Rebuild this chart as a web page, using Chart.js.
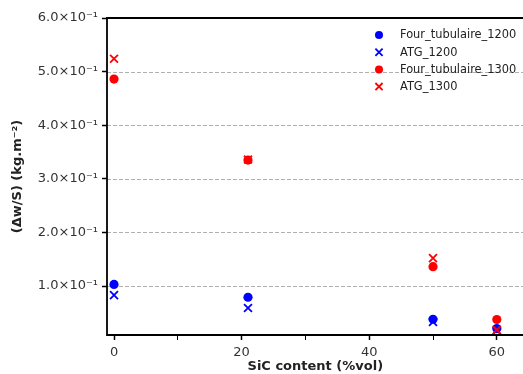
<!DOCTYPE html>
<html>
<head>
<meta charset="utf-8">
<script src="https://cdn.jsdelivr.net/npm/chart.js@4.4.1/dist/chart.umd.min.js"></script>
<style>
  html, body { margin: 0; padding: 0; background: #fff; overflow: hidden; }
  #wrap { width: 531px; height: 374px; position: relative; }
</style>
</head>
<body>
<div id="wrap"><canvas id="chart"></canvas></div>
<script>
// teneur en SiC (%vol) et gain de masse par surface
const SIC = [0, 21, 50, 60];
const FOUR_1200 = [0.103, 0.079, 0.038, 0.0205];
const ATG_1200 = [0.083, 0.059, 0.033, 0.017];
const FOUR_1300 = [0.486, 0.335, 0.136, 0.0375];
const ATG_1300 = [0.524, 0.336, 0.152, 0.018];

const SERIES_NAMES = ["Four_tubulaire_1200", "ATG_1200", "Four_tubulaire_1300", "ATG_1300"];
const Y_TICKS = [0.1, 0.2, 0.3, 0.4, 0.5, 0.6];
const X_TICKS = [0, 10, 20, 30, 40, 50, 60];
const X_LABELED = [0, 20, 40, 60];

const FONT = "'DejaVu Sans', sans-serif";

const toPoints = (ys) => SIC.map((x, i) => ({ x: x, y: ys[i] }));

function circleSet(label, ys, color, order) {
  return {
    label: label, data: toPoints(ys), order: order,
    pointStyle: "circle", pointRadius: 4.6, borderWidth: 0,
    backgroundColor: color, borderColor: color
  };
}
function crossSet(label, ys, color, order) {
  return {
    label: label, data: toPoints(ys), order: order,
    pointStyle: "crossRot", pointRadius: 5.6, borderWidth: 1.8,
    backgroundColor: color, borderColor: color
  };
}

// grille pointillée + cadre + légende dessinés à la main
const decor = {
  id: "decor",
  beforeDatasetsDraw(chart) {
    const { ctx, chartArea: a, scales } = chart;
    ctx.save();
    ctx.strokeStyle = "#b0b0b0";
    ctx.lineWidth = 1;
    ctx.setLineDash([4, 2]);
    Y_TICKS.forEach((v) => {
      const y = Math.round(scales.y.getPixelForValue(v)) + 0.5;
      ctx.beginPath();
      ctx.moveTo(a.left, y);
      ctx.lineTo(a.right, y);
      ctx.stroke();
    });
    ctx.restore();
  },
  afterDatasetsDraw(chart) {
    const { ctx, chartArea: a } = chart;
    ctx.save();
    ctx.strokeStyle = "#000";
    ctx.lineWidth = 1.8;
    ctx.beginPath();
    ctx.moveTo(a.right + 2, a.top);
    ctx.lineTo(a.left, a.top);
    ctx.lineTo(a.left, a.bottom);
    ctx.lineTo(a.right + 2, a.bottom);
    ctx.stroke();
    ctx.restore();
  },
  afterDraw(chart) {
    const { ctx } = chart;
    ctx.save();
    ctx.font = "11.4px " + FONT;
    ctx.textBaseline = "middle";
    chart.data.datasets.forEach((ds, i) => {
      const y = 35 + i * 17.2;
      const x = 379;
      ctx.fillStyle = ds.backgroundColor;
      ctx.strokeStyle = ds.borderColor;
      if (ds.pointStyle === "circle") {
        ctx.beginPath();
        ctx.arc(x, y, 4, 0, Math.PI * 2);
        ctx.fill();
      } else {
        ctx.lineWidth = 1.8;
        ctx.beginPath();
        ctx.moveTo(x - 3.6, y - 3.6); ctx.lineTo(x + 3.6, y + 3.6);
        ctx.moveTo(x + 3.6, y - 3.6); ctx.lineTo(x - 3.6, y + 3.6);
        ctx.stroke();
      }
      ctx.fillStyle = "#222";
      ctx.fillText(ds.label, 400, y + 0.5);
    });
    ctx.restore();
  }
};

new Chart(document.getElementById("chart"), {
  type: "scatter",
  data: {
    datasets: [
      circleSet(SERIES_NAMES[0], FOUR_1200, "#0000ff", 4),
      crossSet(SERIES_NAMES[1], ATG_1200, "#0000ff", 3),
      circleSet(SERIES_NAMES[2], FOUR_1300, "#ff0000", 2),
      crossSet(SERIES_NAMES[3], ATG_1300, "#ff0000", 1)
    ]
  },
  options: {
    responsive: true,
    maintainAspectRatio: false,
    animation: false,
    events: [],
    layout: { padding: { top: 18, right: 0, bottom: 0, left: 0 } },
    plugins: { legend: { display: false }, tooltip: { enabled: false } },
    scales: {
      x: {
        type: "linear", min: -1.1, max: 64.2,
        afterBuildTicks: (s) => { s.ticks = X_TICKS.map((v) => ({ value: v })); },
        afterFit: (s) => { s.height = 39; },
        border: { display: false },
        grid: {
          drawOnChartArea: false, drawTicks: true, tickLength: 5,
          tickColor: "#000",
          tickWidth: (c) => (X_LABELED.includes(c.tick && c.tick.value) ? 1.5 : 1)
        },
        ticks: {
          padding: 5, color: "#333", font: { family: FONT, size: 13 },
          maxRotation: 0, autoSkip: false,
          callback: (v) => (X_LABELED.includes(v) ? String(v) : "")
        },
        title: {
          display: true, text: "SiC content (%vol)", color: "#222",
          font: { family: FONT, size: 13, weight: "bold" },
          padding: { top: 0, bottom: 0 }
        }
      },
      y: {
        type: "linear", min: 0.0086, max: 0.6,
        afterBuildTicks: (s) => { s.ticks = Y_TICKS.map((v) => ({ value: v })); },
        afterFit: (s) => { s.width = 107; },
        border: { display: false },
        grid: {
          drawOnChartArea: false, drawTicks: true, tickLength: 5,
          tickColor: "#000", tickWidth: 1.5
        },
        ticks: {
          padding: 4, color: "#333", font: { family: FONT, size: 13 },
          callback: (v) => (v * 10).toFixed(1) + "×10⁻¹"
        },
        title: {
          display: true, text: "(Δw/S) (kg.m⁻²)", color: "#222",
          font: { family: FONT, size: 13, weight: "bold" },
          padding: { top: 10, bottom: 0 }
        }
      }
    }
  },
  plugins: [decor]
});
</script>
</body>
</html>
